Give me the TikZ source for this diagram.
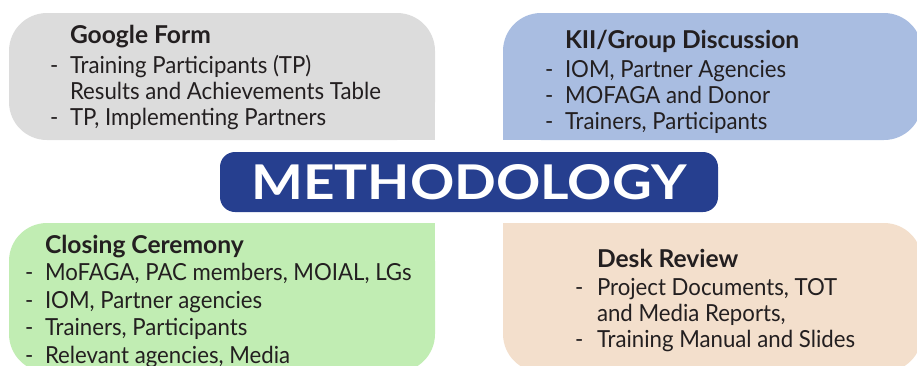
\documentclass[tikz,border=0pt]{standalone}
\usepackage{fontspec}
\setmainfont{Lato}[FakeStretch=0.945]
\newfontfamily\titlefont{Lato}
\definecolor{gbox}{HTML}{DCDCDC}
\definecolor{bbox}{HTML}{A9BDE1}
\definecolor{grbox}{HTML}{C1EDB3}
\definecolor{pbox}{HTML}{F3DFCC}
\definecolor{navy}{HTML}{263F8F}
\definecolor{ink}{HTML}{231F20}
\tikzset{
  panel/.style={rounded corners=38pt},
  txt/.style={inner sep=0pt, outer sep=0pt, anchor=base west, text=ink,
    font=\fontsize{23.5}{26}\selectfont},
}
\newcommand{\ttl}[1]{{\titlefont\bfseries\fontsize{24.6}{26}\selectfont #1}}
\begin{document}
\begin{tikzpicture}[x=1pt,y=-1pt]
\useasboundingbox (0,0) rectangle (917,365);
\clip (0,0) rectangle (917,365);
% gray panel (square bottom-right)
\fill[gbox,panel] (9,13) rectangle (435,140);
\fill[gbox] (222,76) rectangle (435,140);
% blue panel (square bottom-left)
\fill[bbox,panel] (503,13) rectangle (922,140);
\fill[bbox] (503,76) rectangle (712,140);
% green panel (square top-right)
\fill[grbox,panel] (9,223) rectangle (435,372);
\fill[grbox] (222,223) rectangle (435,296);
% peach panel (square top-left)
\fill[pbox,panel] (503,223) rectangle (922,372);
\fill[pbox] (503,223) rectangle (712,296);
% centre
\node[fill=navy, rounded corners=15pt, minimum width=498pt, minimum height=60pt,
  inner sep=0pt, text=white] (method) at (469,182)
  {\resizebox{435pt}{35pt}{\titlefont\bfseries METHODOLOGY}};
% texts
\node[txt] (gf) at (50,43) {\begin{tabular}[t]{@{}p{20pt}@{}l@{}}
 & \ttl{Google Form}\\[4pt]
 - & Training Participants (TP)\\
   & Results and Achievements Table\\
 - & TP, Implementing Partners
\end{tabular}};
\node[txt] (kii) at (545,48) {\begin{tabular}[t]{@{}p{20pt}@{}l@{}}
 & \ttl{KII/Group Discussion}\\[3pt]
 - & IOM, Partner Agencies\\
 - & MOFAGA and Donor\\
 - & Trainers, Participants
\end{tabular}};
\node[txt] (cc) at (25,253) {\renewcommand{\arraystretch}{1.06}\begin{tabular}[t]{@{}p{20pt}@{}l@{}}
 & \ttl{Closing Ceremony}\\
 - & MoFAGA, PAC members, MOIAL, LGs\\
 - & IOM, Partner agencies\\
 - & Trainers, Participants\\
 - & Relevant agencies, Media
\end{tabular}};
\node[txt] (dr) at (575,267) {\begin{tabular}[t]{@{}p{22pt}@{}l@{}}
 & \ttl{Desk Review}\\[2pt]
 - & Project Documents, TOT\\
   & and Media Reports,\\
 - & Training Manual and Slides
\end{tabular}};
\end{tikzpicture}
\end{document}
